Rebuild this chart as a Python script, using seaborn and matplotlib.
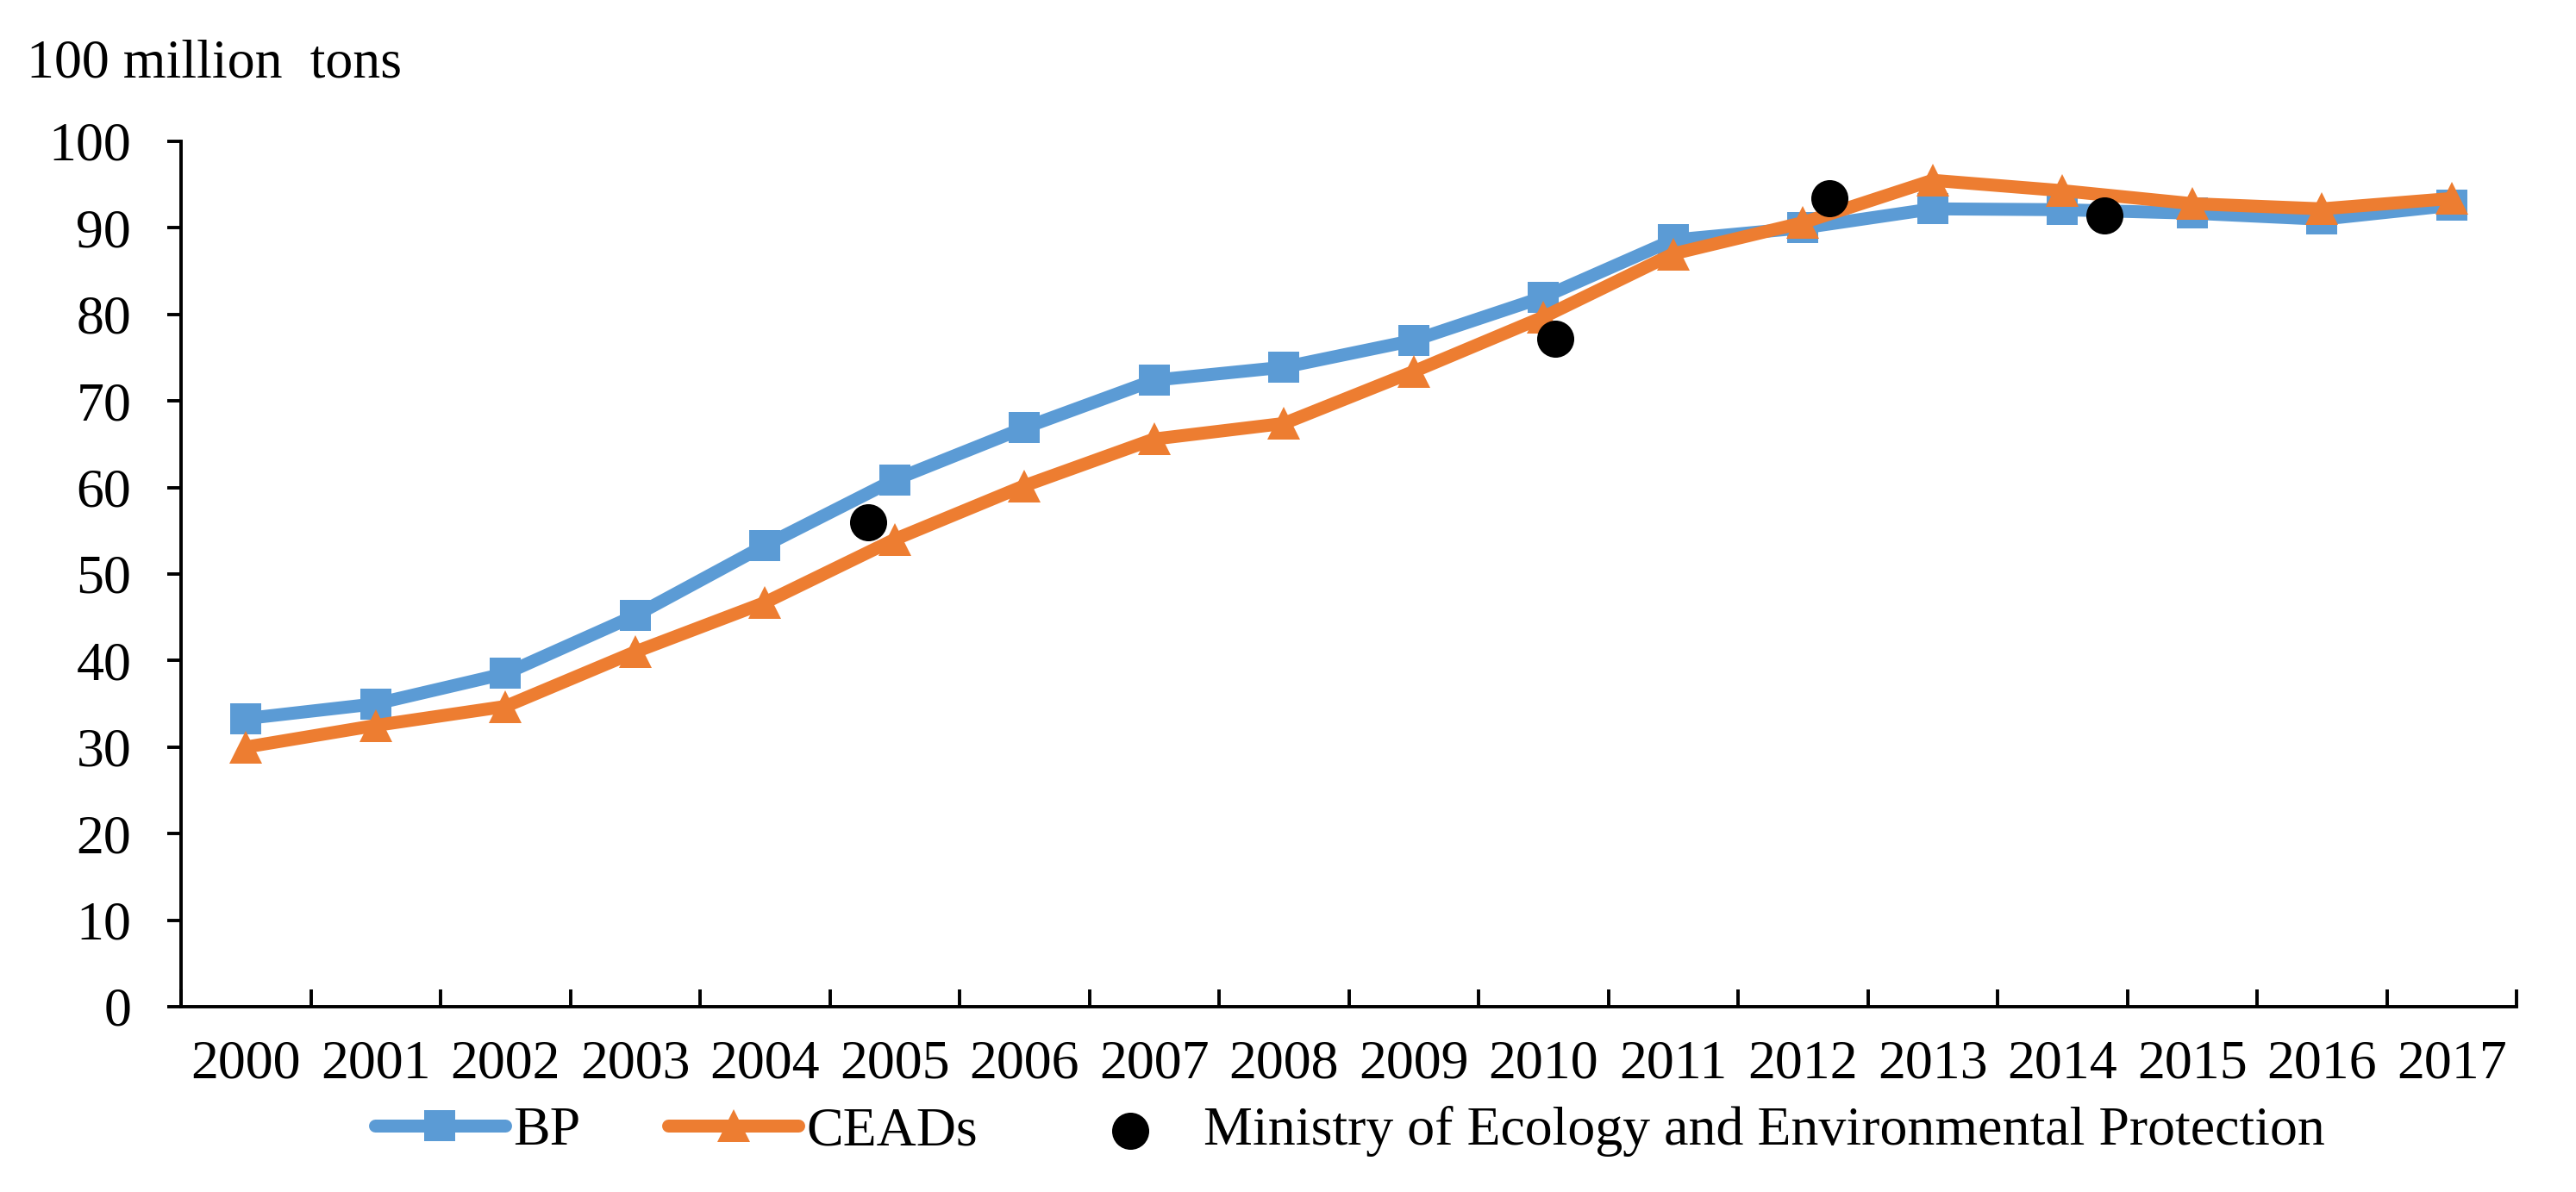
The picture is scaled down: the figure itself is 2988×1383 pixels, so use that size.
import matplotlib
matplotlib.use("Agg")
import matplotlib.pyplot as plt
import seaborn as sns
import pandas as pd
import numpy as np
from matplotlib.ticker import FixedLocator

# ---- data ----
years = list(range(2000, 2018))
bp = [33.3, 35.0, 38.5, 45.2, 53.3, 60.9, 66.9, 72.4, 73.9, 77.0,
      82.0, 88.6, 90.0, 92.2, 92.1, 91.7, 91.0, 92.6]
ceads = [30.0, 32.5, 34.7, 41.0, 46.7, 54.0, 60.2, 65.6, 67.4, 73.4,
         79.7, 87.0, 90.6, 95.5, 94.3, 92.8, 92.2, 93.4]
ministry_years = [2005, 2010, 2012, 2014]
ministry_vals = [56.0, 77.2, 93.4, 91.4]
y_ticks = list(range(0, 101, 10))
x_labels = [str(y) for y in years]
series_names = ["BP", "CEADs", "Ministry of Ecology and Environmental Protection"]
unit_label = "100 million  tons"

# ---- style ----
sns.set_style("white")
plt.rcParams['font.family'] = ['Liberation Serif', 'DejaVu Serif']
plt.rcParams['text.color'] = 'black'
plt.rcParams['xtick.color'] = 'black'
plt.rcParams['ytick.color'] = 'black'

W, H, DPI = 2988, 1383, 200
FS = 23
fig = plt.figure(figsize=(W / DPI, H / DPI), dpi=DPI)
fig.patch.set_facecolor("white")
ax = fig.add_axes([210 / W, 1 - 1168 / H, (2919 - 210) / W, (1168 - 164) / H])

df = pd.DataFrame({"year": years, "BP": bp, "CEADs": ceads})
sns.lineplot(data=df, x="year", y="BP", ax=ax, color="#5B9BD5", lw=5.4,
             marker="s", markersize=12.8, markeredgewidth=0, label=series_names[0])
sns.lineplot(data=df, x="year", y="CEADs", ax=ax, color="#ED7D31", lw=5.4,
             marker="^", markersize=14, markeredgewidth=0, label=series_names[1])

ax.set_xlim(1999.5, 2017.5)
ax.set_ylim(0, 100)
ax.set_xlabel("")
ax.set_ylabel("")
ax.set_yticks(y_ticks)
ax.set_xticks(years)
ax.set_xticklabels(x_labels)
ax.xaxis.set_minor_locator(FixedLocator(np.arange(1999.5, 2018.0, 1.0)))
ax.tick_params(axis="x", which="major", length=0, pad=14, labelsize=FS)
ax.tick_params(axis="x", which="minor", direction="in", length=7.2, width=1.4,
               bottom=True)
ax.tick_params(axis="y", which="major", direction="out", length=5.8, width=1.4,
               pad=15, labelsize=FS, left=True)
for s in ["top", "right"]:
    ax.spines[s].set_visible(False)
for s in ["left", "bottom"]:
    ax.spines[s].set_color("black")
    ax.spines[s].set_linewidth(1.4)

# Ministry scatter on its own linear x scale spanning the full plot width
ax2 = ax.twiny()
sns.scatterplot(x=ministry_years, y=ministry_vals, ax=ax2, color="black", s=240,
                linewidth=0, label=series_names[2], zorder=5)
ax2.set_xlim(2000, 2017)
ax2.set_ylim(0, 100)
ax2.set_axis_off()

h1, l1 = ax.get_legend_handles_labels()
h2, l2 = ax2.get_legend_handles_labels()
if ax.get_legend() is not None:
    ax.get_legend().remove()
if ax2.get_legend() is not None:
    ax2.get_legend().remove()
fig.legend(h1 + h2, l1 + l2, loc="center", bbox_to_anchor=(1566 / W, 1 - 1313 / H),
           ncol=3, frameon=False, fontsize=FS, handlelength=2.35,
           handletextpad=0.15, columnspacing=1.6)

fig.text(31 / W, 1 - 90 / H, unit_label, ha="left", va="baseline", fontsize=FS)

fig.savefig("out.png", dpi=DPI)
